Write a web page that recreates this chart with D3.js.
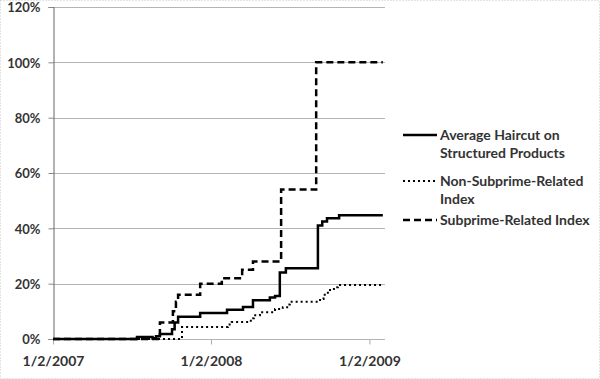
<!DOCTYPE html>
<html lang="en">
<head>
    <meta charset="UTF-8">
    <title>Haircuts</title>
    <script src="https://cdn.jsdelivr.net/npm/d3@7"></script>
    <style>
        body { margin: 0; background: #fff; }
        text { font-family: Lato, "Liberation Sans", sans-serif; font-weight: bold; fill: #333; }
    </style>
</head>
<body>

<script>
    var width = 600;
    var height = 379;

    // y-axis ticks and x-axis tick dates
    var yTicks = [0, 20, 40, 60, 80, 100, 120];
    var xTicks = ["2007-01-02", "2008-01-02", "2009-01-02"];
    var xTickLabels = ["1/2/2007", "1/2/2008", "1/2/2009"];

    // series: [date, value in %]
    var avgHaircut = [
        ["2007-01-02", 0], ["2007-07-15", 0.7], ["2007-08-20", 0.3], ["2007-08-28", 1],
        ["2007-09-06", 1.8], ["2007-10-04", 3.5], ["2007-10-10", 6], ["2007-10-18", 8],
        ["2007-12-08", 9.4], ["2008-02-08", 10.6], ["2008-03-16", 11.6], ["2008-04-08", 14],
        ["2008-05-17", 15], ["2008-05-29", 15.5], ["2008-06-09", 24], ["2008-06-23", 25.6],
        ["2008-09-05", 41], ["2008-09-15", 42.5], ["2008-09-26", 43.6], ["2008-10-24", 44.7],
        ["2009-02-02", 44.7]
    ];
    var nonSubprime = [
        ["2007-01-02", 0], ["2007-10-27", 4.3], ["2008-02-10", 5.2], ["2008-02-19", 6.1],
        ["2008-04-03", 7.5], ["2008-04-10", 8.6], ["2008-04-24", 9.7], ["2008-05-29", 10.8],
        ["2008-06-16", 11.5], ["2008-06-26", 12.5], ["2008-07-02", 13.5], ["2008-09-10", 14.5],
        ["2008-09-18", 16], ["2008-09-28", 17.7], ["2008-10-12", 18.7], ["2008-10-21", 19.5],
        ["2009-02-02", 19.5]
    ];
    var subprime = [
        ["2007-01-02", 0], ["2007-09-06", 6], ["2007-10-06", 10], ["2007-10-13", 13.5],
        ["2007-10-18", 16], ["2007-12-08", 20], ["2008-01-27", 22], ["2008-03-14", 25],
        ["2008-04-08", 28], ["2008-06-12", 54], ["2008-09-01", 100], ["2009-02-02", 100]
    ];

    var seriesNames = ["Average Haircut on|Structured Products", "Non-Subprime-Related|Index", "Subprime-Related Index"];

    var parse = d3.timeParse("%Y-%m-%d");

    var svg = d3.select("body")
                .append("svg")
                .attr("width", width)
                .attr("height", height);

    // outer frame
    svg.append("rect")
        .attr("x", 0.5).attr("y", 0.5)
        .attr("width", width - 1).attr("height", height - 1)
        .attr("fill", "none")
        .attr("stroke", "#c8c8c8")
        .attr("stroke-dasharray", "1,2");

    var x = d3.scaleTime()
                .domain([parse("2007-01-02"), parse("2009-02-07")])
                .range([53, 385]);

    var y = d3.scaleLinear()
                .domain([0, 120])
                .range([339, 7]);

    // gridlines
    svg.selectAll("line.grid")
        .data(yTicks)
        .enter()
        .append("line")
        .attr("class", "grid")
        .attr("x1", 53).attr("x2", 385)
        .attr("y1", function (d) { return Math.round(y(d)) + 0.5; })
        .attr("y2", function (d) { return Math.round(y(d)) + 0.5; })
        .attr("stroke", "#b4b4b4")
        .attr("stroke-width", 1);

    // y axis
    var yAxis = d3.axisLeft(y)
                .tickValues(yTicks)
                .tickSize(5)
                .tickFormat(function (d) { return d + "%"; });
    var gy = svg.append("g").attr("transform", "translate(53.5,0)").call(yAxis);
    gy.select(".domain").attr("stroke", "#666");
    gy.selectAll(".tick line").attr("stroke", "#888");
    gy.selectAll(".tick text")
        .attr("x", -13)
        .attr("dy", "0.38em")
        .style("font-size", "13px")
        .attr("fill", "#333");

    // x axis
    var xAxis = d3.axisBottom(x)
                .tickValues(xTicks.map(parse))
                .tickSize(5)
                .tickFormat(function (d, i) { return xTickLabels[i]; });
    var gx = svg.append("g").attr("transform", "translate(0,339.5)").call(xAxis);
    gx.select(".domain").remove();
    gx.selectAll(".tick line").attr("stroke", "#aaa");
    gx.selectAll(".tick text")
        .attr("y", 17)
        .style("font-size", "14px")
        .attr("fill", "#333");

    var line = d3.line()
                .x(function (d) { return x(parse(d[0])); })
                .y(function (d) { return y(d[1]); })
                .curve(d3.curveStepAfter);

    var styles = [
        { data: avgHaircut, dash: null, w: 2.5 },
        { data: nonSubprime, dash: "2,3", w: 2 },
        { data: subprime, dash: "7,4", w: 2.5 }
    ];

    svg.selectAll("path.series")
        .data(styles)
        .enter()
        .append("path")
        .attr("class", "series")
        .attr("d", function (d) { return line(d.data); })
        .attr("fill", "none")
        .attr("stroke", "#000")
        .attr("stroke-width", function (d) { return d.w; })
        .attr("stroke-dasharray", function (d) { return d.dash; });

    // legend
    var legendY = [135, 181, 220];
    var legend = svg.selectAll("g.legend")
        .data(styles)
        .enter()
        .append("g")
        .attr("class", "legend")
        .attr("transform", function (d, i) { return "translate(403," + legendY[i] + ")"; });

    legend.append("line")
        .attr("x1", 0).attr("x2", 34)
        .attr("stroke", "#000")
        .attr("stroke-width", function (d) { return d.w; })
        .attr("stroke-dasharray", function (d) { return d.dash; });

    legend.append("text")
        .attr("x", 37)
        .attr("y", 5)
        .style("font-size", "14px")
        .selectAll("tspan")
        .data(function (d, i) { return seriesNames[i].split("|"); })
        .enter()
        .append("tspan")
        .attr("x", 37)
        .attr("dy", function (d, i) { return i === 0 ? 0 : 18; })
        .text(function (d) { return d; });
</script>
</body>
</html>
